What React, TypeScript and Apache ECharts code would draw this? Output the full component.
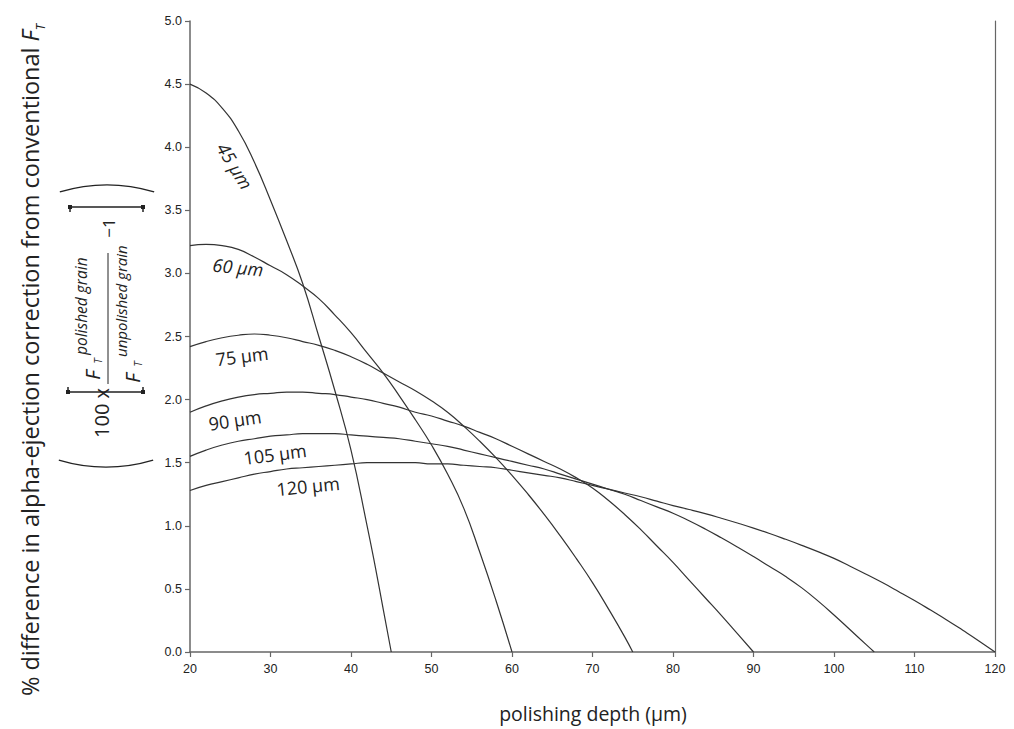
import React, { useEffect, useRef } from 'react';
import * as echarts from 'echarts';

// polishing depth (µm) vs % difference, one curve per grain size
const curve45: [number, number][] = [
  [20, 4.5], [22, 4.43], [24, 4.31], [26, 4.13], [28, 3.88], [30, 3.58], [32, 3.26], [34, 2.92],
  [36, 2.5], [38, 2.07], [40, 1.6], [42, 1.0], [43, 0.68], [44, 0.34], [45, 0],
];
const curve60: [number, number][] = [
  [20, 3.22], [22, 3.23], [24, 3.22], [26, 3.19], [28, 3.13], [30, 3.06], [32, 2.99], [34, 2.9],
  [36, 2.8], [38, 2.67], [40, 2.53], [42, 2.37], [44, 2.21], [46, 2.03], [48, 1.84], [50, 1.64],
  [52, 1.41], [54, 1.14], [56, 0.79], [58, 0.41], [60, 0],
];
const curve75: [number, number][] = [
  [20, 2.42], [22, 2.46], [24, 2.49], [26, 2.51], [28, 2.52], [30, 2.51], [32, 2.49], [34, 2.46],
  [36, 2.43], [38, 2.39], [40, 2.34], [42, 2.28], [44, 2.21], [46, 2.14], [48, 2.07], [50, 1.99],
  [52, 1.9], [54, 1.79], [56, 1.67], [58, 1.54], [60, 1.4], [62, 1.25], [64, 1.09], [66, 0.92],
  [68, 0.74], [70, 0.55], [72, 0.34], [74, 0.12], [75, 0],
];
const curve90: [number, number][] = [
  [20, 1.9], [22, 1.95], [24, 1.99], [26, 2.02], [28, 2.04], [30, 2.05], [32, 2.06], [34, 2.06],
  [36, 2.05], [38, 2.04], [40, 2.02], [42, 2.0], [44, 1.97], [46, 1.94], [48, 1.9], [50, 1.87],
  [52, 1.83], [54, 1.79], [56, 1.74], [58, 1.69], [60, 1.63], [62, 1.57], [64, 1.51], [66, 1.45],
  [68, 1.38], [70, 1.3], [72, 1.2], [74, 1.09], [76, 0.97], [78, 0.84], [80, 0.71], [82, 0.57],
  [84, 0.43], [86, 0.29], [88, 0.145], [90, 0],
];
const curve105: [number, number][] = [
  [20, 1.55], [22, 1.6], [24, 1.64], [26, 1.67], [28, 1.69], [30, 1.71], [32, 1.72], [34, 1.73],
  [36, 1.73], [38, 1.73], [40, 1.72], [42, 1.71], [44, 1.7], [46, 1.69], [48, 1.67], [50, 1.65],
  [52, 1.63], [54, 1.6], [56, 1.57], [58, 1.54], [60, 1.51], [62, 1.48], [64, 1.45], [66, 1.41],
  [68, 1.37], [70, 1.33], [72, 1.29], [74, 1.25], [76, 1.2], [78, 1.15], [80, 1.1], [82, 1.04],
  [84, 0.975], [86, 0.905], [88, 0.832], [90, 0.756], [92, 0.677], [94, 0.598], [96, 0.508],
  [98, 0.405], [100, 0.293], [102, 0.176], [104, 0.058], [105, 0],
];
const curve120: [number, number][] = [
  [20, 1.28], [22, 1.32], [24, 1.35], [26, 1.38], [28, 1.41], [30, 1.43], [32, 1.45], [34, 1.46],
  [36, 1.47], [38, 1.48], [40, 1.49], [42, 1.5], [44, 1.5], [46, 1.5], [48, 1.5], [50, 1.49],
  [52, 1.49], [54, 1.48], [56, 1.47], [58, 1.46], [60, 1.44], [62, 1.42], [64, 1.4], [66, 1.38],
  [68, 1.35], [70, 1.32], [72, 1.29], [74, 1.26], [76, 1.23], [78, 1.195], [80, 1.16],
  [82, 1.129], [84, 1.096], [86, 1.06], [88, 1.022], [90, 0.982], [92, 0.939], [94, 0.893],
  [96, 0.845], [98, 0.795], [100, 0.742], [102, 0.68], [104, 0.616], [106, 0.55], [108, 0.48],
  [110, 0.408], [112, 0.332], [114, 0.254], [116, 0.172], [118, 0.088], [120, 0],
];

const curves = [curve45, curve60, curve75, curve90, curve105, curve120];
const curveLabels = ['45 µm', '60 µm', '75 µm', '90 µm', '105 µm', '120 µm'];

const xMin = 20;
const xMax = 120;
const xStep = 10;
const yMin = 0;
const yMax = 5;
const yStep = 0.5;

const xTitle = 'polishing depth (µm)';
const yTitle = '% difference in alpha-ejection correction from conventional ';

export default function App() {
  const ref = useRef<HTMLDivElement>(null);

  useEffect(() => {
    const chart = echarts.init(ref.current!, null, { renderer: 'svg' });
    const ink = '#222';
    const axisColor = '#666';
    const rot = Math.PI / 2;
    const sans = '"Open Sans", "Noto Sans", sans-serif';

    const labelPos = [
      { x: 235, y: 166, r: -1.02, italic: true },
      { x: 238, y: 267, r: -0.1, italic: true },
      { x: 242, y: 356, r: 0.12, italic: false },
      { x: 235, y: 420, r: 0.15, italic: false },
      { x: 275, y: 454, r: 0.13, italic: false },
      { x: 308, y: 486, r: 0.1, italic: false },
    ];

    const txt = (text: string, x: number, y: number, size: number, opts: any = {}) => ({
      type: 'text',
      x,
      y,
      rotation: opts.rotation ?? 0,
      silent: true,
      style: {
        text,
        fontSize: size,
        fontFamily: opts.family ?? sans,
        fontStyle: opts.italic ? 'italic' : 'normal',
        fill: opts.fill ?? ink,
        align: opts.align ?? 'center',
        verticalAlign: opts.valign ?? 'middle',
        textAlign: opts.align ?? 'center',
        textVerticalAlign: opts.valign ?? 'middle',
        rich: opts.rich,
      },
    });

    const dot = (x: number, y: number) => ({
      type: 'rect',
      silent: true,
      shape: { x: x - 2, y: y - 2, width: 4, height: 4 },
      style: { fill: ink },
    });

    const graphic: any[] = [
      // y-axis title
      txt(yTitle + '{it|F}{sub|T}', 30, 360, 23.5, {
        rotation: rot,
        rich: {
          it: { fontStyle: 'italic', fontSize: 23.5, fontFamily: sans, fill: ink },
          sub: { fontStyle: 'italic', fontSize: 12.5, fontFamily: sans, fill: ink, verticalAlign: 'bottom', lineHeight: 34 },
        },
      }),
      // x-axis title
      txt(xTitle, 593, 713, 19.5),
      // formula: outer parentheses
      {
        type: 'arc', silent: true,
        shape: { cx: 107, cy: 350, r: 165, startAngle: -Math.PI / 2 - 0.29, endAngle: -Math.PI / 2 + 0.29, clockwise: true },
        style: { stroke: ink, fill: null, lineWidth: 1.3 },
      },
      {
        type: 'arc', silent: true,
        shape: { cx: 106, cy: 302, r: 165, startAngle: Math.PI / 2 - 0.29, endAngle: Math.PI / 2 + 0.29, clockwise: true },
        style: { stroke: ink, fill: null, lineWidth: 1.3 },
      },
      // square brackets
      {
        type: 'polyline', silent: true,
        shape: { points: [[68, 387], [68, 392], [143, 392], [143, 387]] },
        style: { stroke: ink, fill: null, lineWidth: 1.5 },
      },
      dot(68, 392), dot(143, 392),
      {
        type: 'polyline', silent: true,
        shape: { points: [[70, 212], [70, 207], [143, 207], [143, 212]] },
        style: { stroke: ink, fill: null, lineWidth: 1.5 },
      },
      dot(70, 207), dot(143, 207),
      // fraction bar
      {
        type: 'line', silent: true,
        shape: { x1: 108, y1: 253, x2: 108, y2: 384 },
        style: { stroke: ink, lineWidth: 1 },
      },
      txt('100 x', 101, 413, 20, { rotation: rot }),
      txt('−1', 108, 228, 17, { rotation: rot }),
      // numerator
      txt('F', 92, 375, 20, { rotation: rot, italic: true }),
      txt('T', 97, 361, 11, { rotation: rot, italic: true }),
      txt('polished grain', 81, 355, 15.5, { rotation: rot, italic: true, align: 'left' }),
      // denominator
      txt('F', 132, 378, 20, { rotation: rot, italic: true }),
      txt('T', 137, 364, 11, { rotation: rot, italic: true }),
      txt('unpolished grain', 121, 357, 15, { rotation: rot, italic: true, align: 'left' }),
      // curve labels
      ...curveLabels.map((l, i) =>
        txt(l, labelPos[i].x, labelPos[i].y, 18, { rotation: labelPos[i].r, italic: labelPos[i].italic })
      ),
    ];

    chart.setOption({
      animation: false,
      backgroundColor: '#fff',
      grid: { left: 190, right: 19, top: 21, bottom: 77, containLabel: false },
      xAxis: {
        type: 'value',
        min: xMin,
        max: xMax,
        interval: xStep,
        axisLine: { show: true, lineStyle: { color: axisColor, width: 1.5 } },
        axisTick: { show: true, inside: false, length: 5, lineStyle: { color: axisColor, width: 1.2 } },
        axisLabel: { color: '#222', fontSize: 12.5, fontFamily: '"Liberation Sans", Arial, sans-serif', margin: 10 },
        splitLine: { show: false },
      },
      yAxis: [
        {
          type: 'value',
          min: yMin,
          max: yMax,
          interval: yStep,
          axisLine: { show: true, lineStyle: { color: axisColor, width: 1.5 } },
          axisTick: { show: true, inside: false, length: 5, lineStyle: { color: axisColor, width: 1.2 } },
          axisLabel: {
            color: '#222',
            fontSize: 12.5,
            fontFamily: '"Liberation Sans", Arial, sans-serif',
            margin: 8,
            formatter: (v: number) => v.toFixed(1),
          },
          splitLine: { show: false },
        },
        {
          type: 'value',
          position: 'right',
          min: yMin,
          max: yMax,
          interval: yStep,
          axisLine: { show: true, lineStyle: { color: axisColor, width: 1.2 } },
          axisTick: { show: false },
          axisLabel: { show: false },
          splitLine: { show: false },
        },
      ],
      series: curves.map((c, i) => ({
        name: curveLabels[i],
        type: 'line',
        data: c,
        yAxisIndex: 0,
        symbol: 'none',
        showSymbol: false,
        smooth: 0.5,
        silent: true,
        lineStyle: { color: '#333', width: 1.2 },
      })),
      graphic,
    });

    return () => chart.dispose();
  }, []);

  return (
    <div
      ref={ref}
      style={{ position: 'fixed', left: 0, top: 0, width: 1014, height: 729, background: '#fff' }}
    />
  );
}
